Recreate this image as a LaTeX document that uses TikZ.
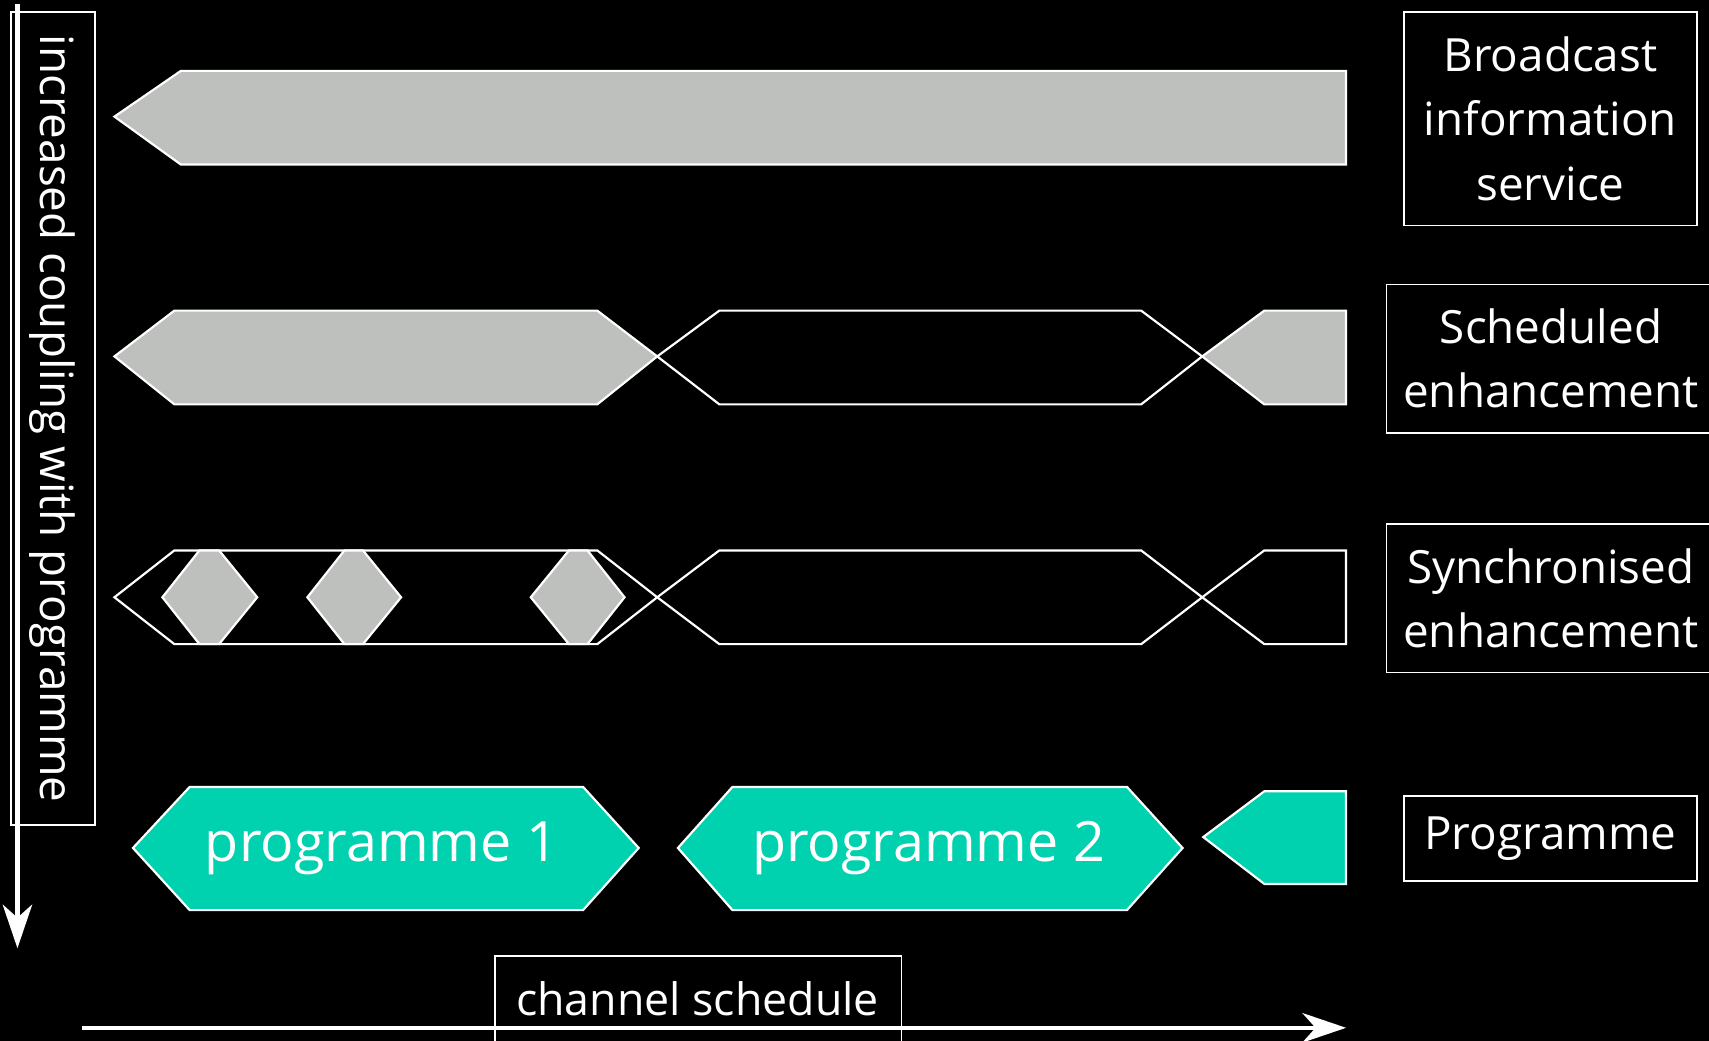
\documentclass[tikz,border=0pt]{standalone}
\usepackage{fontspec}
\setmainfont{Open Sans}
\usetikzlibrary{arrows.meta}
\definecolor{grayf}{RGB}{190,192,189}
\definecolor{tealf}{RGB}{0,209,174}
\begin{document}
\begin{tikzpicture}[x=1pt,y=-1pt,
  gshape/.style={fill=grayf,draw=white,line width=2pt},
  oshape/.style={fill=black,draw=white,line width=2pt},
  tshape/.style={fill=tealf,draw=white,line width=2pt},
  lbox/.style={draw=white,line width=1.6pt},
  ltext/.style={text=white,align=center,font=\fontsize{42}{59}\selectfont},
  ptext/.style={text=white,font=\fontsize{51}{60}\selectfont},
  bigarrow/.style={draw=white,line width=4pt,-{Stealth[length=40pt,width=27pt,inset=12pt]}}
]
\fill[black] (0,0) rectangle (1568,955);
\useasboundingbox (0,0) rectangle (1568,955);

% row 1: broadcast information service
\draw[gshape] (105,107) -- (166,65) -- (1235,65) -- (1235,151) -- (166,151) -- cycle;

% row 2: scheduled enhancement
\draw[gshape] (105,327) -- (160,285) -- (548,285) -- (603,327) -- (548,371) -- (160,371) -- cycle;
\draw[oshape] (603,327) -- (660,285) -- (1047,285) -- (1103,327) -- (1047,371) -- (660,371) -- cycle;
\draw[gshape] (1103,327) -- (1160,285) -- (1235,285) -- (1235,371) -- (1160,371) -- cycle;

% row 3: synchronised enhancement
\draw[oshape] (105,548) -- (160,505) -- (548,505) -- (603,548) -- (548,591) -- (160,591) -- cycle;
\draw[oshape] (603,548) -- (660,505) -- (1047,505) -- (1103,548) -- (1047,591) -- (660,591) -- cycle;
\draw[oshape] (1103,548) -- (1160,505) -- (1235,505) -- (1235,591) -- (1160,591) -- cycle;
\draw[gshape] (149,548) -- (183,505) -- (201,505) -- (236,548) -- (201,591) -- (183,591) -- cycle;
\draw[gshape] (282,548) -- (316,505) -- (333,505) -- (368,548) -- (333,591) -- (316,591) -- cycle;
\draw[gshape] (487,548) -- (522,505) -- (539,505) -- (573,548) -- (539,591) -- (522,591) -- cycle;

% row 4: programmes
\draw[tshape] (122,778) -- (174,722) -- (535,722) -- (586,778) -- (535,835) -- (174,835) -- cycle;
\draw[tshape] (622,778) -- (672,722) -- (1034,722) -- (1085,778) -- (1034,835) -- (672,835) -- cycle;
\draw[tshape] (1104,768) -- (1160,726) -- (1235,726) -- (1235,811) -- (1160,811) -- cycle;
\node[ptext] (p1) at (350,778) {programme 1};
\node[ptext] (p2) at (852,778) {programme 2};

% right labels
\node[lbox,ltext,minimum width=269pt,minimum height=196pt] (bis) at (1422.5,109) {Broadcast\\information\\service};
\draw[lbox] (1272,261) rectangle (1585,397);
\node[ltext] (sch) at (1423,329) {Scheduled\\enhancement};
\draw[lbox] (1272,481) rectangle (1585,617);
\node[ltext] (syn) at (1423,549) {Synchronised\\enhancement};
\node[lbox,ltext,minimum width=269pt,minimum height=78pt] (prg) at (1422.5,769) {Programme};

% left vertical label
\node[lbox,ltext,rotate=-90,minimum width=746pt,minimum height=77pt] (vt) at (48.5,384) {increased coupling with programme};

% channel schedule label
\draw[lbox] (454,877) rectangle (827,965);
\node[ltext,font=\fontsize{41}{48}\selectfont] (ch) at (640,916) {channel schedule};

% arrows
\coordinate (vs) at (16,4);
\coordinate (ve) at (16,870);
\draw[bigarrow] (vs) -- (ve);
\coordinate (hs) at (75,943);
\coordinate (he) at (1235,943);
\draw[bigarrow] (hs) -- (he);
\end{tikzpicture}
\end{document}
